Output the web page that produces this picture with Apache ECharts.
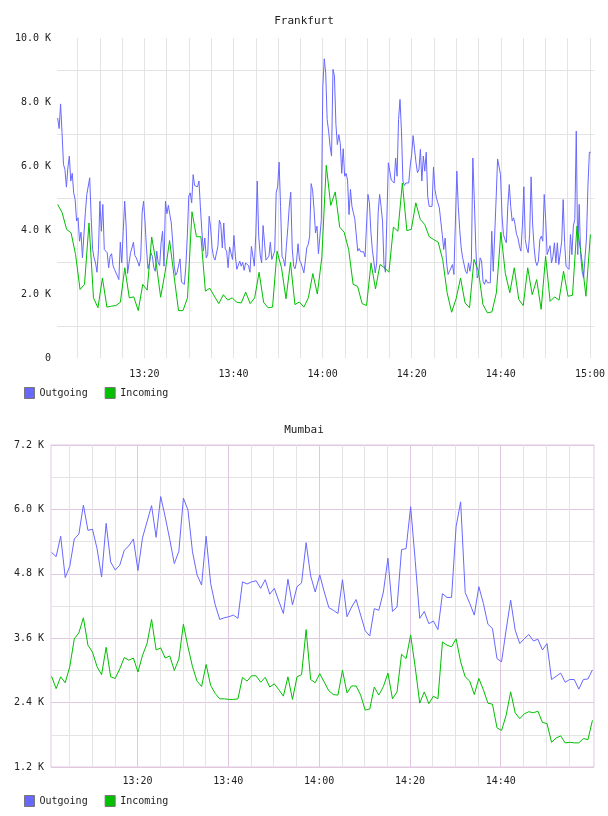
<!DOCTYPE html>
<html>
<head>
<meta charset="utf-8">
<title>Frankfurt / Mumbai traffic</title>
<script src="https://cdn.jsdelivr.net/npm/echarts@6/dist/echarts.min.js"></script>
<style>
  html, body { margin: 0; padding: 0; background: #fff; }
  #chart { width: 608px; height: 816px; }
</style>
</head>
<body>
<div id="chart"></div>
<script>
/* ============================================================
   Frankfurt / Mumbai traffic — two rrd-style line graphs
   values are in K, times in minutes after 13:00
   ============================================================ */

/* ── Frankfurt ── */
const FRA_OUT = [
  7.50,7.17,7.94,7.04,6.05,5.89,5.34,5.94,6.31,5.53,
  5.77,5.16,4.95,4.28,4.38,3.65,3.93,3.13,3.11,4.54,
  5.11,5.16,5.63,4.38,3.39,3.13,2.97,2.68,3.39,4.90,
  3.96,4.80,3.39,3.44,3.29,2.82,3.18,3.26,2.89,2.77,
  2.82,2.56,2.45,3.62,2.97,3.96,4.90,4.12,2.64,2.97,
  3.29,3.44,3.62,3.20,3.13,3.13,2.87,3.13,4.56,4.90,
  4.22,3.41,2.79,2.97,3.29,3.18,2.82,2.71,3.34,2.97,
  2.89,3.60,3.96,2.87,4.90,4.51,4.77,4.48,4.22,3.60,
  2.87,2.58,2.68,2.66,3.10,2.37,2.37,2.30,2.89,3.81,
  5.06,5.16,4.85,5.73,5.39,5.37,5.35,5.53,4.69,3.96,
  3.34,3.75,3.13,3.23,4.43,4.07,3.44,3.16,3.06,3.03,
  3.49,4.31,4.17,3.44,4.22,3.41,3.34,2.82,3.47,3.49,
  3.08,3.83,3.18,2.77,2.74,
  3.03,2.87,2.99,2.74,2.97,2.97,2.89,2.68,3.49,3.51,
  2.87,3.86,5.53,3.81,3.23,2.97,4.14,3.60,3.06,3.01,
  3.18,3.62,3.08,3.13,3.34,5.16,5.35,6.12,4.74,3.18,
  3.08,2.87,3.49,4.07,4.74,5.18,3.44,2.87,2.79,3.03,
  3.57,3.06,2.97,2.82,2.66,3.03,3.44,3.55,3.81,5.45,
  5.24,4.64,3.91,4.12,3.26,3.29,4.33,8.49,9.35,8.91,
  7.45,7.09,6.62,6.31,9.02,8.81,7.30,6.67,6.98,6.70,
  5.77,6.54,5.68,5.77,5.56,4.48,5.27,4.74,4.54,4.33,
  4.28,3.34,3.42,3.32,3.32,3.32,3.16,3.13,5.11,4.85,
  3.96,3.39,3.39,2.66,2.97,4.54,5.11,4.74,4.28,2.92,
  2.68,2.66,6.10,5.84,5.56,5.58,5.47,6.25,5.68,7.45,
  8.08,7.09,5.53,5.39,5.47,5.47,5.47,6.00,6.36,6.95,
  6.52,6.10,5.79,
  5.89,6.52,5.53,6.31,5.84,6.43,5.06,4.74,4.69,4.74,
  5.97,5.27,5.00,4.85,4.69,4.66,3.86,3.39,3.75,2.97,
  2.61,2.71,2.68,2.92,2.61,4.22,5.84,4.74,4.01,3.44,
  3.13,3.10,2.71,2.64,2.97,2.71,3.03,6.25,4.95,3.49,
  2.50,2.61,3.13,3.03,2.40,2.30,2.45,2.35,2.30,2.35,
  3.96,2.71,2.66,5.00,6.22,6.20,5.73,4.48,3.86,3.70,
  3.60,4.74,5.42,4.74,4.28,4.38,4.17,3.86,3.75,3.49,
  3.34,4.12,5.35,3.70,3.44,3.29,3.86,5.66,4.22,3.49,
  3.03,2.89,3.03,3.70,3.81,3.65,5.11,4.33,3.23,3.26,
  3.51,2.97,3.18,3.60,2.97,3.60,2.92,2.92,3.65,4.95,
  3.60,2.87,2.82,2.77,3.86,3.23,4.12,4.33,7.09,3.23,
  4.80,3.23,2.71,2.50,2.50,3.75,5.37,6.43,6.43
];
const FRA_IN = [
  4.80,4.54,4.02,3.91,3.23,2.14,2.30,4.22,1.88,1.57,
  2.50,1.59,1.62,1.64,1.74,2.82,1.88,1.91,1.48,2.30,
  2.12,3.78,2.97,1.90,2.68,3.67,2.56,1.48,1.48,1.88,
  4.57,3.79,3.79,2.09,2.18,1.93,1.70,1.98,1.81,1.88,
  1.74,1.72,2.06,1.70,1.88,2.68,1.74,1.57,1.59,3.34,
  2.82,1.85,2.99,1.67,1.75,1.59,1.88,2.64,2.00,3.13,
  6.02,4.77,5.19,4.09,3.93,3.39,2.30,2.24,1.70,1.64,
  2.97,2.16,2.92,2.82,2.68,4.09,3.96,5.47,3.98,4.02,
  4.85,4.33,4.17,3.79,3.70,3.62,3.08,2.04,1.43,1.85,
  2.50,1.72,1.57,3.08,2.71,1.67,1.41,1.44,2.04,3.93,
  2.64,2.04,2.82,1.83,1.64,2.82,1.98,2.45,1.52,3.18,
  1.77,1.91,1.81,2.71,1.93,1.96,4.12,3.18,1.93,3.86
];
const FRA_OUT_SPAN = [0.53, 120.2];   // first / last sample, minutes
const FRA_IN_SPAN = [0.53, 120.1];

/* ── Mumbai ── */
const MUM_OUT = [
  5.20,5.12,5.50,4.73,4.94,5.45,5.54,6.08,5.61,5.63,
  5.27,4.74,5.74,5.02,4.87,4.96,5.24,5.32,5.45,4.86,
  5.47,5.77,6.07,5.48,6.24,5.86,5.44,4.99,5.22,6.21,
  5.99,5.21,4.78,4.59,5.50,4.62,4.22,3.95,3.98,4.00,
  4.03,
  3.97,4.65,4.61,4.65,4.67,4.53,4.69,4.42,4.53,4.29,
  4.06,4.70,4.22,4.56,4.63,5.38,4.76,4.46,4.78,4.46,
  4.17,4.12,4.06,4.69,4.00,4.18,4.32,4.03,3.74,3.64,
  4.15,4.12,4.46,5.09,4.10,4.18,5.25,5.27,6.05,
  5.05,3.97,4.10,3.87,3.92,3.76,4.43,4.36,4.36,5.68,
  6.14,4.45,4.25,4.03,4.56,4.25,3.86,3.78,3.22,3.16,
  3.75,4.31,3.75,3.50,3.59,3.67,3.55,3.58,3.38,3.50,
  2.83,2.89,2.95,2.78,2.83,2.83,2.65,2.83,2.84,3.01
];
const MUM_IN = [
  2.89,2.66,2.88,2.77,3.07,3.59,3.70,3.98,3.47,3.34,
  3.07,2.92,3.43,2.88,2.85,3.03,3.24,3.19,3.23,2.97,
  3.28,3.50,3.95,3.38,3.42,3.23,3.27,3.00,3.21,3.86,
  3.44,3.07,2.80,2.70,3.11,2.72,2.57,2.47,2.47,2.46,
  2.46,
  2.47,2.87,2.80,2.90,2.90,2.78,2.87,2.69,2.75,2.64,
  2.52,2.88,2.46,2.88,2.92,3.76,2.83,2.77,2.94,2.78,
  2.62,2.55,2.54,3.00,2.58,2.71,2.71,2.54,2.26,2.28,
  2.69,2.54,2.70,2.95,2.47,2.60,3.30,3.22,3.66,
  3.06,2.39,2.60,2.38,2.52,2.47,3.53,3.47,3.44,3.59,
  3.16,2.88,2.80,2.55,2.85,2.64,2.39,2.37,1.93,1.88,
  2.16,2.60,2.21,2.10,2.19,2.23,2.21,2.24,2.03,2.01,
  1.66,1.74,1.78,1.65,1.66,1.65,1.65,1.73,1.71,2.07
];
const MUM_SPAN = [1.07, 120.2];

/* ── axis ticks ── */
const TIME_LABELS_FRA = [20, 40, 60, 80, 100, 120];   // 13:20 … 15:00
const TIME_LABELS_MUM = [20, 40, 60, 80, 100];        // 13:20 … 14:40
const SERIES_NAMES = ['Outgoing', 'Incoming'];

/* ── style ── */
const FONT = "'DejaVu Sans Mono', monospace";
const TXT = { fontFamily: FONT, fontSize: 10, color: '#222' };
const TITLE_TXT = { fontFamily: FONT, fontSize: 11, fontWeight: 'normal', color: '#222' };
const COLOR_OUT = '#6868ff';
const COLOR_IN = '#00c000';
const GRID_GREY = '#e4e4e4';
const GRID_PINK = '#e0c8e0';

// 5-minute gridlines
const every5 = [];
for (let m = 5; m <= 120; m += 5) every5.push(m);
const every5Minor = every5.filter(m => m % 20 !== 0);

function hhmm(m) {
  const t = 13 * 60 + Math.round(m);
  return Math.floor(t / 60) + ':' + String(t % 60).padStart(2, '0');
}

// evenly spaced samples between first and last time
function toPoints(values, span) {
  const step = (span[1] - span[0]) / (values.length - 1);
  return values.map((v, i) => [span[0] + i * step, v]);
}

function lineSeries(name, values, span, axisIdx, color) {
  return {
    name, type: 'line', xAxisIndex: axisIdx.x, yAxisIndex: axisIdx.y,
    data: toPoints(values, span),
    showSymbol: false, symbol: 'none',
    lineStyle: { color, width: 1 },
    itemStyle: { color },
    emphasis: { disabled: true },
  };
}

function legendAt(top) {
  return {
    data: SERIES_NAMES, left: 24, top, padding: 0,
    icon: 'rect', itemWidth: 10, itemHeight: 11, itemGap: 17,
    itemStyle: { borderColor: '#777', borderWidth: 1 },
    textStyle: TXT,
  };
}

const chart = echarts.init(document.getElementById('chart'), null, { renderer: 'canvas' });

chart.setOption({
  animation: false,
  backgroundColor: '#fff',
  title: [
    { text: 'Frankfurt', left: 'center', top: 16, padding: 0, textStyle: TITLE_TXT },
    { text: 'Mumbai', left: 'center', top: 425, padding: 0, textStyle: TITLE_TXT },
  ],
  legend: [legendAt(387), legendAt(795)],
  grid: [
    { left: 57, top: 38, width: 539, height: 320 },
    { left: 51, top: 445, width: 543, height: 322, show: true, borderColor: GRID_PINK, borderWidth: 1 },
  ],
  xAxis: [
    { // Frankfurt
      type: 'value', gridIndex: 0, min: 0.38, max: 120.96,
      axisLine: { show: false },
      axisTick: { show: false, customValues: every5 },
      axisLabel: { customValues: TIME_LABELS_FRA, formatter: hhmm, margin: 11, ...TXT },
      splitLine: { show: true, lineStyle: { color: GRID_GREY, width: 1 } },
    },
    { // Mumbai, 20-minute lines + labels
      type: 'value', gridIndex: 1, min: 0.94, max: 120.54,
      axisLine: { show: false },
      axisTick: { show: false, customValues: TIME_LABELS_MUM },
      axisLabel: { customValues: TIME_LABELS_MUM, formatter: hhmm, margin: 9, ...TXT },
      splitLine: { show: true, lineStyle: { color: GRID_PINK, width: 1 } },
    },
    { // Mumbai, 5-minute lines
      type: 'value', gridIndex: 1, min: 0.94, max: 120.54, position: 'bottom',
      axisLine: { show: false },
      axisTick: { show: false, customValues: every5Minor },
      axisLabel: { show: false },
      splitLine: { show: true, lineStyle: { color: GRID_GREY, width: 1 } },
    },
  ],
  yAxis: [
    { // Frankfurt
      type: 'value', gridIndex: 0, min: 0, max: 10, interval: 2,
      axisLine: { show: false }, axisTick: { show: false },
      axisLabel: { formatter: v => (v === 0 ? '0' : v.toFixed(1) + ' K'), margin: 6, ...TXT },
      splitLine: { show: false },
      minorTick: { show: false, splitNumber: 2 },
      minorSplitLine: { show: true, lineStyle: { color: GRID_GREY, width: 1 } },
    },
    { // Mumbai
      type: 'value', gridIndex: 1, min: 1.2, max: 7.2, interval: 1.2,
      axisLine: { show: false }, axisTick: { show: false },
      axisLabel: { formatter: v => v.toFixed(1) + ' K', margin: 7, ...TXT },
      splitLine: { show: true, lineStyle: { color: GRID_PINK, width: 1 } },
      minorTick: { show: false, splitNumber: 2 },
      minorSplitLine: { show: true, lineStyle: { color: GRID_GREY, width: 1 } },
    },
  ],
  series: [
    lineSeries('Outgoing', FRA_OUT, FRA_OUT_SPAN, { x: 0, y: 0 }, COLOR_OUT),
    lineSeries('Incoming', FRA_IN, FRA_IN_SPAN, { x: 0, y: 0 }, COLOR_IN),
    lineSeries('Outgoing', MUM_OUT, MUM_SPAN, { x: 1, y: 1 }, COLOR_OUT),
    lineSeries('Incoming', MUM_IN, MUM_SPAN, { x: 1, y: 1 }, COLOR_IN),
  ],
});
</script>
</body>
</html>
